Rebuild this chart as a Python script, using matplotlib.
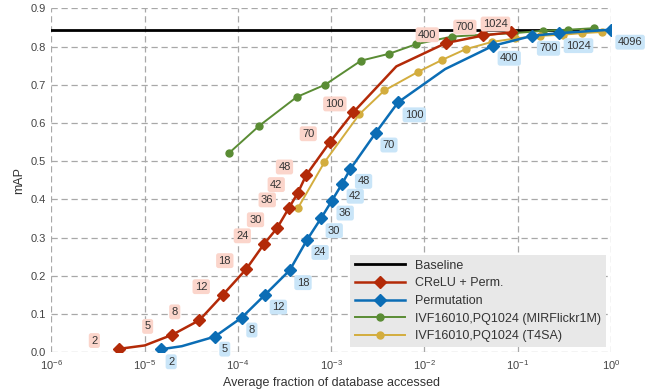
import matplotlib
matplotlib.use('Agg')
import matplotlib.pyplot as plt
from matplotlib.ticker import NullLocator, FormatStrFormatter, LogFormatterSciNotation

plt.rcParams['font.family'] = ['Liberation Sans', 'DejaVu Sans']
plt.rcParams['mathtext.fontset'] = 'custom'
plt.rcParams['mathtext.rm'] = 'Liberation Sans'
plt.rcParams['mathtext.it'] = 'Liberation Sans'

# data
baseline = 0.844

crelu_x = [5.3e-6, 1.0e-5, 1.98e-5, 3.86e-5, 6.87e-5, 1.23e-4, 1.9e-4, 2.63e-4, 3.51e-4,
           4.39e-4, 5.38e-4, 9.7e-4, 1.73e-3, 5.0e-3, 1.70e-2, 4.3e-2, 8.46e-2]
crelu_y = [0.009, 0.018, 0.046, 0.084, 0.150, 0.218, 0.283, 0.325, 0.377,
           0.417, 0.463, 0.550, 0.628, 0.748, 0.809, 0.829, 0.837]
crelu_lab = ['2', None, '5', '8', '12', '18', '24', '30', '36',
             '42', '48', '70', '100', None, '400', '700', '1024']

perm_x = [1.5e-5, 2.5e-5, 5.64e-5, 1.10e-4, 1.96e-4, 3.60e-4, 5.50e-4, 7.80e-4, 1.02e-3,
          1.31e-3, 1.61e-3, 3.02e-3, 5.22e-3, 1.67e-2, 5.46e-2, 1.44e-1, 2.79e-1, 1.0]
perm_y = [0.008, 0.016, 0.041, 0.091, 0.151, 0.215, 0.294, 0.351, 0.397,
          0.441, 0.480, 0.575, 0.654, 0.741, 0.802, 0.828, 0.835, 0.844]
perm_lab = ['2', None, '5', '8', '12', '18', '24', '30', '36',
            '42', '48', '70', '100', None, '400', '700', '1024', '4096']

mir_x = [8.0e-5, 1.70e-4, 4.28e-4, 8.6e-4, 2.09e-3, 4.18e-3, 8.15e-3, 1.97e-2,
         4.37e-2, 9.18e-2, 1.86e-1, 3.51e-1, 6.62e-1]
mir_y = [0.521, 0.593, 0.668, 0.700, 0.763, 0.781, 0.806, 0.826,
         0.831, 0.835, 0.841, 0.844, 0.848]

t4sa_x = [4.39e-4, 8.45e-4, 2.01e-3, 3.72e-3, 8.45e-3, 1.55e-2, 2.77e-2, 5.32e-2,
          9.4e-2, 1.74e-1, 3.08e-1, 4.92e-1, 8.07e-1]
t4sa_y = [0.377, 0.497, 0.623, 0.685, 0.733, 0.765, 0.793, 0.812,
          0.821, 0.828, 0.831, 0.835, 0.838]

xticks = [1e-6, 1e-5, 1e-4, 1e-3, 1e-2, 1e-1, 1]
yticks = [0.0, 0.1, 0.2, 0.3, 0.4, 0.5, 0.6, 0.7, 0.8, 0.9]

red = '#b32a08'
blue = '#0b6db5'
green = '#5a8c34'
yellow = '#d3ad3e'

fig = plt.figure(figsize=(6.55, 3.89), dpi=100)
ax = fig.add_axes([0.0786, 0.0943, 0.854, 0.8844])

ax.axhline(baseline, color='black', lw=2, label='Baseline', zorder=2)

mk_red = [i for i, l in enumerate(crelu_lab) if l is not None]
mk_blue = [i for i, l in enumerate(perm_lab) if l is not None]

ax.plot(crelu_x, crelu_y, color=red, lw=1.8, marker='D', ms=6, markevery=mk_red,
        label='CReLU + Perm.', zorder=4)
ax.plot(perm_x, perm_y, color=blue, lw=1.8, marker='D', ms=6, markevery=mk_blue,
        label='Permutation', zorder=4)
ax.plot(mir_x, mir_y, color=green, lw=1.4, marker='o', ms=5,
        label='IVF16010,PQ1024 (MIRFlickr1M)', zorder=3)
ax.plot(t4sa_x, t4sa_y, color=yellow, lw=1.4, marker='o', ms=5,
        label='IVF16010,PQ1024 (T4SA)', zorder=3)

for x, y, l in zip(crelu_x, crelu_y, crelu_lab):
    if l is None:
        continue
    ax.annotate(l, (x, y), xytext=(-20, 6), textcoords='offset points', ha='left',
                va='center', fontsize=8, color='#333333', zorder=5,
                bbox=dict(boxstyle='round,pad=0.22', fc='#fbd5cb', ec='none'))
for x, y, l in zip(perm_x, perm_y, perm_lab):
    if l is None:
        continue
    ax.annotate(l, (x, y), xytext=(5, -9), textcoords='offset points', ha='left',
                va='center', fontsize=8, color='#333333', zorder=5,
                bbox=dict(boxstyle='round,pad=0.22', fc='#c9e5f8', ec='none'))

ax.set_xscale('log')
ax.set_xlim(1e-6, 1)
ax.set_ylim(0, 0.9)
ax.set_xticks(xticks)
ax.xaxis.set_major_formatter(LogFormatterSciNotation())
ax.xaxis.set_minor_locator(NullLocator())
ax.set_yticks(yticks)
ax.yaxis.set_major_formatter(FormatStrFormatter('%.1f'))

ax.grid(True, color='#a8a8a8', linestyle=(0, (5, 3)), lw=0.9, zorder=0)
for s in ax.spines.values():
    s.set_visible(False)
ax.tick_params(length=0, labelsize=8, colors='#444444', pad=4)

ax.set_xlabel('Average fraction of database accessed', fontsize=9, color='#333333')
ax.set_ylabel('mAP', fontsize=9, color='#333333')

leg = ax.legend(loc='lower right', fontsize=9, frameon=True, fancybox=False,
                handlelength=4, handletextpad=0.8, borderaxespad=0.4, labelspacing=0.45)
leg.get_frame().set_facecolor('#e8e8e8')
leg.get_frame().set_edgecolor('none')
leg.get_frame().set_alpha(1)
for t in leg.get_texts():
    t.set_color('#333333')

fig.savefig('out.png', dpi=100)
